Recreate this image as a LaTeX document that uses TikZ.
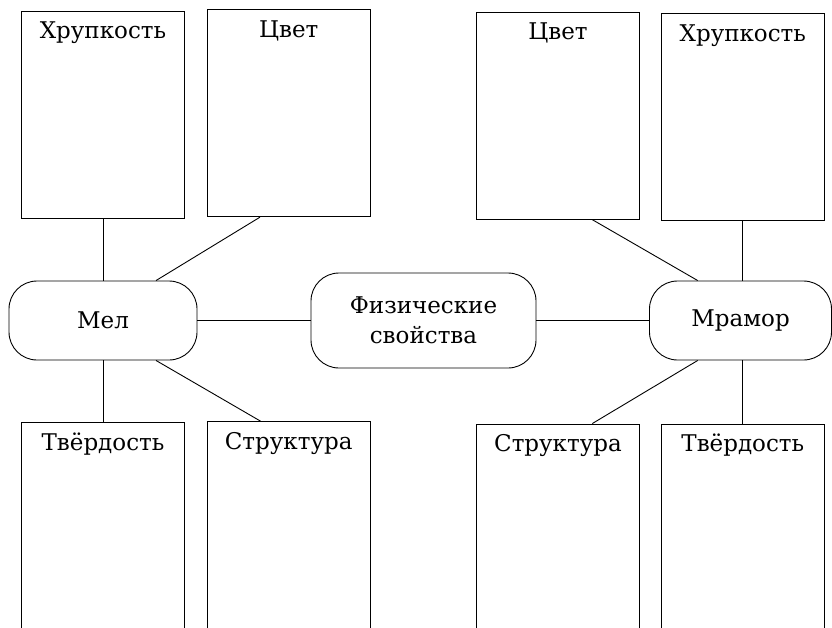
\documentclass[tikz,border=0pt]{standalone}
\usepackage{fontspec}
\setmainfont{DejaVu Serif}

\tikzset{
    card/.style={draw, line width=0.9pt, minimum width=162.6pt, minimum height=207pt, inner sep=0pt},
    tallcard/.style={card, minimum height=230pt},
    heading/.style={anchor=north, yshift=-11pt, inner sep=0pt, text height=17pt, text depth=5pt,
        font=\fontsize{23}{27}\selectfont},
    pill/.style={draw, line width=0.9pt, rounded corners=28pt, inner sep=0pt, align=center,
        font=\fontsize{23}{30}\selectfont},
    link/.style={line width=0.9pt}
}

\begin{document}
\begin{tikzpicture}[x=1pt, y=-1pt]
    \useasboundingbox (0,0) rectangle (832,627);
    \clip (0,0) rectangle (832,627);

    % Centre and the two minerals
    \node[pill, minimum width=225pt, minimum height=95pt] (phys) at (423.5, 320.5) {Физические\\свойства};
    \node[pill, minimum width=188pt, minimum height=79pt] (mel) at (103, 320.5) {Мел};
    \node[pill, minimum width=182pt, minimum height=79pt] (mramor) at (740.5, 320.5) {Мрамор};

    % Cards of Мел (left)
    \node[card, label={[heading]north:Хрупкость}] (melHr) at (103, 114.7) {};
    \node[card, label={[heading]north:Цвет}] (melCv) at (288.7, 113.2) {};
    \node[tallcard, label={[heading]north:Твёрдость}] (melTv) at (103, 537.7) {};
    \node[tallcard, label={[heading]north:Структура}] (melSt) at (288.7, 536.7) {};

    % Cards of Мрамор (right)
    \node[card, label={[heading]north:Цвет}] (mrCv) at (558, 115.7) {};
    \node[card, label={[heading]north:Хрупкость}] (mrHr) at (742.8, 117) {};
    \node[tallcard, label={[heading]north:Структура}] (mrSt) at (558, 539) {};
    \node[tallcard, label={[heading]north:Твёрдость}] (mrTv) at (742.8, 539) {};

    % Links
    \draw[link] (mel) -- (phys);
    \draw[link] (phys) -- (mramor);

    \draw[link] (melHr.south) -- (melHr.south |- mel.north);
    \draw[link] ([xshift=-28.7pt]melCv.south) -- ([xshift=53pt]mel.north);
    \draw[link] (melTv.north) -- (melTv.north |- mel.south);
    \draw[link] ([xshift=53pt]mel.south) -- ([xshift=-28pt]melSt.north);

    \draw[link] ([xshift=34.3pt]mrCv.south) -- ([xshift=-42.8pt]mramor.north);
    \draw[link] (mrHr.south) -- (mrHr.south |- mramor.north);
    \draw[link] ([xshift=-42.8pt]mramor.south) -- ([xshift=34.3pt]mrSt.north);
    \draw[link] (mrTv.north) -- (mrTv.north |- mramor.south);
\end{tikzpicture}
\end{document}
